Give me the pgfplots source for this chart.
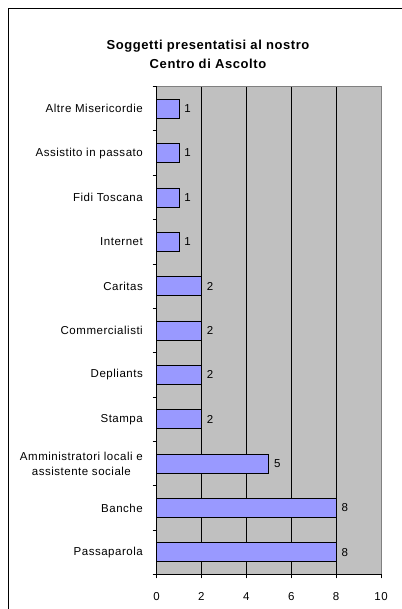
\documentclass[border=0pt]{standalone}
\usepackage{pgfplots}
\pgfplotsset{compat=1.18}
\usepackage{fontspec}
\setmainfont{Liberation Sans}[LetterSpace=4.5]
\definecolor{plotbg}{HTML}{C0C0C0}
\definecolor{barc}{HTML}{9999FF}
\definecolor{bord}{HTML}{808080}
\begin{document}
\begin{tikzpicture}[x=1pt,y=1pt]
\useasboundingbox (0,0) rectangle (401,609);
\fill[white] (0,0) rectangle (401,609);
\draw[black, line width=1pt] (8.5,-2) -- (8.5,600.5) -- (403,600.5);
\node[anchor=base, inner sep=0pt, font=\fontsize{13}{15}\selectfont\bfseries] at (208,559) {Soggetti presentatisi al nostro};
\node[anchor=base, inner sep=0pt, font=\fontsize{13}{15}\selectfont\bfseries] at (208,540.7) {Centro di Ascolto};
\begin{axis}[
  at={(156.5pt,34.5pt)}, anchor=south west,
  width=224.5pt, height=488pt, scale only axis,
  xmin=0, xmax=10, ymin=-0.5, ymax=10.5,
  xbar, bar width=19pt,
  axis background/.style={fill=plotbg},
  axis line style={draw=none},
  /pgf/number format/assume math mode=true,
  xtick={0,2,4,6,8,10},
  xtick pos=bottom, ytick pos=left,
  tick align=outside,
  major tick length=4pt,
  xtick style={black, line width=0.8pt},
  xmajorgrids,
  major grid style={black, line width=0.8pt},
  xticklabel style={inner sep=0pt, font=\fontsize{11.5}{13}\selectfont, yshift=-14pt},
  ytick={0,1,2,3,4,5,6,7,8,9,10},
  yticklabels={Passaparola, Banche, {Amministratori locali e\\assistente sociale}, Stampa, Depliants, Commercialisti, Caritas, Internet, Fidi Toscana, Assistito in passato, Altre Misericordie},
  ytick style={draw=none},
  yticklabel style={align=center, inner sep=0pt, font=\fontsize{11.5}{15}\selectfont, xshift=-9.5pt},
  extra y ticks={-0.5,0.5,1.5,2.5,3.5,4.5,5.5,6.5,7.5,8.5,9.5,10.5},
  extra y tick labels={},
  extra y tick style={ytick style={draw=black, line width=0.8pt}},
  point meta=x,
  nodes near coords,
  nodes near coords style={font=\fontsize{11.5}{13}\selectfont, inner sep=0pt, anchor=west, xshift=5pt},
  clip=false,
]
\addplot[fill=barc, draw=black, line width=0.8pt] coordinates {
  (8,0) (8,1) (5,2) (2,3) (2,4) (2,5) (2,6) (1,7) (1,8) (1,9) (1,10)
};
\draw[bord, line width=0.8pt] (rel axis cs:0,1) -- (rel axis cs:1,1) -- (rel axis cs:1,0);
\draw[black, line width=0.8pt] (rel axis cs:0,1) -- (rel axis cs:0,0) -- (rel axis cs:1,0);
\end{axis}
\end{tikzpicture}
\end{document}
